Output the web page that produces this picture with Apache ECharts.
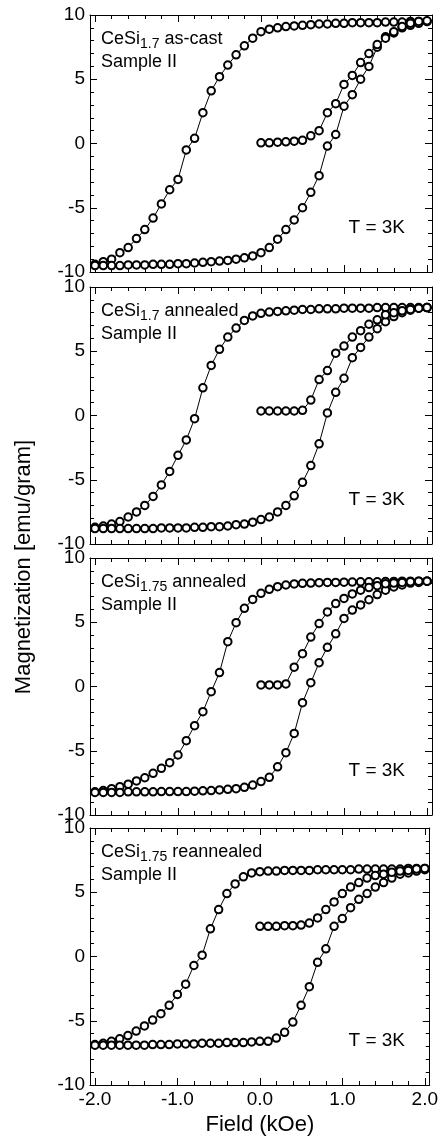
<!DOCTYPE html>
<html>
<head>
<meta charset="utf-8">
<script src="https://cdn.jsdelivr.net/npm/echarts@6/dist/echarts.min.js"></script>
<style>
  html, body { margin: 0; padding: 0; background: #fff; }
  #chart { width: 441px; height: 1140px; }
</style>
</head>
<body>
<div id="chart"></div>
<script>
// == Data ====================================================================

// field values of the full loop branches (kOe)
const field = [-2.0, -1.9, -1.8, -1.7, -1.6, -1.5, -1.4, -1.3, -1.2, -1.1, -1.0,
  -0.9, -0.8, -0.7, -0.6, -0.5, -0.4, -0.3, -0.2, -0.1, 0.0,
  0.1, 0.2, 0.3, 0.4, 0.5, 0.6, 0.7, 0.8, 0.9, 1.0,
  1.1, 1.2, 1.3, 1.4, 1.5, 1.6, 1.7, 1.8, 1.9, 2.0]
// field values of the initial (virgin) curve
const fieldVirgin = [0.0, 0.1, 0.2, 0.3, 0.4, 0.5, 0.6, 0.7, 0.8, 0.9, 1.0,
  1.1, 1.2, 1.3, 1.4, 1.5, 1.6, 1.7, 1.8, 1.9, 2.0]

const xMajorTicks = [-2, -1, 0, 1, 2]
const xMinorTicks = [-2.0, -1.8, -1.6, -1.4, -1.2, -1.0, -0.8, -0.6, -0.4, -0.2, 0.0,
  0.2, 0.4, 0.6, 0.8, 1.0, 1.2, 1.4, 1.6, 1.8, 2.0]
const xTickLabels = ['-2.0', '-1.0', '0.0', '1.0', '2.0']

// panel 1: CeSi1.7 as-cast
const down1 = [-9.4, -9.2, -9.0, -8.5, -8.1, -7.4, -6.7, -5.8, -4.7, -3.6, -2.8,
  -0.5, 0.4, 2.4, 4.1, 5.2, 6.1, 6.9, 7.6, 8.2, 8.7,
  8.9, 9.0, 9.1, 9.15, 9.2, 9.25, 9.3, 9.3, 9.35, 9.35,
  9.4, 9.4, 9.4, 9.4, 9.45, 9.45, 9.45, 9.5, 9.5, 9.5]
const up1 = [-9.5, -9.5, -9.5, -9.5, -9.45, -9.45, -9.45, -9.4, -9.4, -9.4, -9.35,
  -9.35, -9.3, -9.25, -9.2, -9.15, -9.1, -9.0, -8.9, -8.75, -8.5,
  -8.1, -7.45, -6.7, -5.95, -5.0, -3.8, -2.5, -0.2, 0.7, 2.9,
  3.8, 5.0, 6.0, 7.5, 8.3, 8.6, 9.0, 9.2, 9.35, 9.5]
const virgin1 = [0.05, 0.05, 0.1, 0.13, 0.18, 0.25, 0.6, 1.0, 2.4, 3.1, 4.6,
  5.3, 6.3, 7.0, 7.7, 8.2, 8.7, 9.1, 9.35, 9.5, 9.55]

// panel 2: CeSi1.7 annealed
const down2 = [-8.7, -8.6, -8.45, -8.25, -7.9, -7.5, -7.0, -6.3, -5.4, -4.35, -3.1,
  -1.9, -0.25, 2.15, 3.9, 5.15, 6.1, 6.8, 7.4, 7.75, 7.95,
  8.05, 8.1, 8.15, 8.2, 8.25, 8.25, 8.3, 8.3, 8.3, 8.35,
  8.35, 8.35, 8.35, 8.4, 8.4, 8.4, 8.4, 8.4, 8.4, 8.4]
const up2 = [-8.8, -8.8, -8.8, -8.8, -8.8, -8.8, -8.8, -8.8, -8.75, -8.75, -8.75,
  -8.75, -8.7, -8.7, -8.65, -8.65, -8.6, -8.5, -8.45, -8.3, -8.1,
  -7.9, -7.5, -7.0, -6.25, -5.2, -3.9, -2.2, 0.2, 1.8, 2.9,
  4.5, 5.3, 6.1, 6.75, 7.3, 7.7, 8.0, 8.2, 8.35, 8.4]
const virgin2 = [0.35, 0.35, 0.35, 0.35, 0.35, 0.4, 1.2, 2.8, 3.5, 4.85, 5.4,
  6.1, 6.6, 7.1, 7.45, 7.85, 8.0, 8.15, 8.25, 8.35, 8.4]

// panel 3: CeSi1.75 annealed
const down3 = [-8.2, -8.1, -7.95, -7.8, -7.6, -7.35, -7.1, -6.76, -6.37, -5.93, -5.33,
  -4.22, -3.05, -1.96, -0.4, 1.08, 3.49, 4.97, 6.08, 6.78, 7.25,
  7.56, 7.77, 7.9, 7.98, 8.03, 8.05, 8.08, 8.1, 8.1, 8.12,
  8.13, 8.15, 8.15, 8.15, 8.17, 8.18, 8.2, 8.2, 8.2, 8.2]
const up3 = [-8.25, -8.25, -8.25, -8.25, -8.2, -8.2, -8.2, -8.2, -8.18, -8.18, -8.18,
  -8.18, -8.15, -8.12, -8.1, -8.05, -8.0, -7.95, -7.85, -7.67, -7.4,
  -7.07, -6.25, -5.15, -3.65, -1.26, 0.3, 1.85, 3.05, 4.1, 5.3,
  5.95, 6.35, 6.75, 7.15, 7.5, 7.75, 7.9, 8.05, 8.1, 8.2]
const virgin3 = [0.12, 0.12, 0.12, 0.2, 1.5, 2.55, 3.85, 4.9, 5.8, 6.45, 6.85,
  7.2, 7.5, 7.7, 7.85, 8.0, 8.05, 8.1, 8.15, 8.2, 8.2]

// panel 4: CeSi1.75 reannealed
const down4 = [-6.85, -6.75, -6.6, -6.4, -6.15, -5.8, -5.4, -4.95, -4.45, -3.8, -2.95,
  -2.15, -0.7, 0.1, 2.15, 3.65, 4.9, 5.65, 6.2, 6.5, 6.6,
  6.65, 6.65, 6.7, 6.7, 6.7, 6.7, 6.75, 6.75, 6.75, 6.75,
  6.75, 6.8, 6.8, 6.8, 6.8, 6.8, 6.8, 6.85, 6.85, 6.85]
const up4 = [-6.9, -6.9, -6.9, -6.9, -6.9, -6.9, -6.9, -6.85, -6.85, -6.85, -6.8,
  -6.8, -6.8, -6.75, -6.75, -6.75, -6.7, -6.7, -6.7, -6.65, -6.6,
  -6.6, -6.35, -5.9, -5.1, -3.8, -2.35, -0.45, 0.6, 2.35, 2.95,
  3.8, 4.45, 4.9, 5.4, 5.75, 6.1, 6.4, 6.5, 6.65, 6.75]
const virgin4 = [2.35, 2.35, 2.35, 2.4, 2.4, 2.45, 2.6, 3.0, 3.65, 4.25, 4.9,
  5.4, 5.75, 6.1, 6.3, 6.4, 6.55, 6.65, 6.7, 6.8, 6.85]

const sampleNames = ['CeSi', 'CeSi', 'CeSi', 'CeSi']
const sampleSubs = ['1.7', '1.7', '1.75', '1.75']
const sampleStates = [' as-cast', ' annealed', ' annealed', ' reannealed']
const sampleLine2 = 'Sample II'
const tempLabel = 'T = 3K'
const xTitle = 'Field (kOe)'
const yTitle = 'Magnetization [emu/gram]'

// == Layout ==================================================================

const FONT = '"Liberation Sans", Arial, Helvetica, sans-serif'
const panelTops = [15, 287, 558, 828]
const panelHeight = 257
const gridLeft = 90
const gridRight = 9

const panels = [
  [down1, up1, virgin1],
  [down2, up2, virgin2],
  [down3, up3, virgin3],
  [down4, up4, virgin4]
]

const pairs = (xs, ys) => xs.map((x, i) => [x, ys[i]])
const tickStyle = {color: '#000', width: 1}

const grid = []
const xAxis = []
const yAxis = []
const series = []
const title = []

panels.forEach((branches, p) => {
  const last = p === panels.length - 1
  grid.push({left: gridLeft, right: gridRight, top: panelTops[p], height: panelHeight})

  const baseX = {gridIndex: p, type: 'value', min: -2.06, max: 2.06, splitLine: {show: false}}
  const firstX = xAxis.length
  // bottom: axis line, major ticks, labels
  xAxis.push(Object.assign({}, baseX, {
    position: 'bottom',
    axisLine: {show: true, onZero: false, lineStyle: tickStyle},
    axisTick: {show: true, inside: true, length: 7, customValues: xMajorTicks, lineStyle: tickStyle},
    axisLabel: {show: last, customValues: xMajorTicks, margin: 5,
      color: '#000', fontSize: 19, fontFamily: FONT,
      formatter: v => xTickLabels[xMajorTicks.indexOf(Math.round(v))]},
    name: last ? xTitle : '', nameLocation: 'middle', nameGap: 29,
    nameTextStyle: {color: '#000', fontSize: 22, fontFamily: FONT}
  }))
  // bottom: minor ticks
  xAxis.push(Object.assign({}, baseX, {
    position: 'bottom',
    axisLine: {show: false, onZero: false},
    axisTick: {show: true, inside: true, length: 4, customValues: xMinorTicks, lineStyle: tickStyle},
    axisLabel: {show: false}
  }))
  // top: frame line, major + minor ticks
  xAxis.push(Object.assign({}, baseX, {
    position: 'top',
    axisLine: {show: true, onZero: false, lineStyle: tickStyle},
    axisTick: {show: true, inside: true, length: 7, customValues: xMajorTicks, lineStyle: tickStyle},
    axisLabel: {show: false}
  }))
  xAxis.push(Object.assign({}, baseX, {
    position: 'top',
    axisLine: {show: false, onZero: false},
    axisTick: {show: true, inside: true, length: 4, customValues: xMinorTicks, lineStyle: tickStyle},
    axisLabel: {show: false}
  }))

  const baseY = {
    gridIndex: p, type: 'value', min: -10, max: 10, interval: 5,
    splitLine: {show: false},
    axisLine: {show: true, onZero: false, lineStyle: tickStyle},
    axisTick: {show: true, inside: true, length: 7, lineStyle: tickStyle},
    minorTick: {show: true, splitNumber: 5, length: 4, lineStyle: tickStyle}
  }
  const firstY = yAxis.length
  yAxis.push(Object.assign({}, baseY, {
    position: 'left',
    axisLabel: {show: true, margin: 5, color: '#000', fontSize: 19, fontFamily: FONT,
      showMinLabel: true, showMaxLabel: true}
  }))
  yAxis.push(Object.assign({}, baseY, {position: 'right', axisLabel: {show: false}}))

  const xs = [field, field, fieldVirgin]
  branches.forEach((ys, b) => {
    series.push({
      type: 'line',
      xAxisIndex: firstX,
      yAxisIndex: firstY,
      data: pairs(xs[b], ys),
      symbol: 'emptyCircle',
      symbolSize: 7.5,
      showSymbol: true,
      clip: false,
      lineStyle: {color: '#000', width: 1},
      itemStyle: {color: '#000', borderColor: '#000', borderWidth: 0.8},
      emphasis: {disabled: true},
      animation: false,
      z: 3
    })
  })

  title.push({
    left: 101, top: panelTops[p] + 13, padding: 0,
    text: '{n|' + sampleNames[p] + '}{s|' + sampleSubs[p] + '}{n|' + sampleStates[p] + '}\n{n|' + sampleLine2 + '}',
    textStyle: {
      fontWeight: 'normal',
      rich: {
        n: {fontSize: 18, lineHeight: 23, fontWeight: 'normal', color: '#000', fontFamily: FONT},
        s: {fontSize: 14, lineHeight: 8, verticalAlign: 'bottom', fontWeight: 'normal', color: '#000', fontFamily: FONT}
      }
    }
  })
  title.push({
    right: 36, top: panelTops[p] + 201, padding: 0,
    text: tempLabel,
    textStyle: {fontSize: 19, lineHeight: 23, fontWeight: 'normal', color: '#000', fontFamily: FONT}
  })
})

const myChart = echarts.init(document.getElementById('chart'), null, {renderer: 'canvas'})
myChart.setOption({
  animation: false,
  backgroundColor: '#fff',
  title,
  grid,
  xAxis,
  yAxis,
  series,
  graphic: [{
    type: 'text',
    x: 24, y: 567,
    rotation: Math.PI / 2,
    style: {
      text: yTitle, fontSize: 22, fontFamily: FONT, fill: '#000',
      align: 'center', verticalAlign: 'middle',
      textAlign: 'center', textVerticalAlign: 'middle'
    }
  }]
})
</script>
</body>
</html>
